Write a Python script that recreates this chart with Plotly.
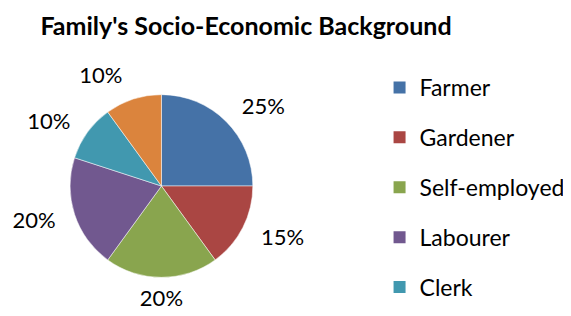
import plotly.graph_objects as go

categories = ["Farmer", "Gardener", "Self-employed", "Labourer", "Clerk", "Other"]
values = [25, 15, 20, 20, 10, 10]
colors = ["#4572A7", "#AA4643", "#89A54E", "#71588F", "#4198AF", "#DB843D"]
legend_items = ["Farmer", "Gardener", "Self-employed", "Labourer", "Clerk"]

W, H = 571, 316
cx, cy, r, rl, rr = 146, 178, 93, 106, 132
clear = ["rgba(0,0,0,0)"] * len(values)
total = sum(values)
pct = [f"{v / total:.0%}" for v in values]
# outside labels for most slices, a ring-centred label for the bottom slice
out_text = [t if c != "Self-employed" else "" for t, c in zip(pct, categories)]
ring_text = [t if c == "Self-employed" else "" for t, c in zip(pct, categories)]

def dom(rad):
    return dict(x=[(cx - rad) / W, (cx + rad) / W], y=[(H - cy - rad) / H, (H - cy + rad) / H])

fig = go.Figure()
fig.add_trace(go.Pie(
    labels=categories, values=values, sort=False, direction="clockwise", rotation=0,
    marker=dict(colors=clear, line=dict(width=0)),
    text=out_text, textinfo="text", textposition="outside",
    textfont=dict(family="Lato", size=22, color="black"),
    showlegend=False, hoverinfo="skip", domain=dom(rl),
))
fig.add_trace(go.Pie(
    labels=categories, values=values, sort=False, direction="clockwise", rotation=0,
    hole=(rr - 34) / rr,
    marker=dict(colors=clear, line=dict(width=0)),
    text=ring_text, textinfo="text", textposition="inside", insidetextorientation="horizontal",
    insidetextfont=dict(family="Lato", size=22, color="black"),
    showlegend=False, hoverinfo="skip", domain=dom(rr),
))
fig.add_trace(go.Pie(
    labels=categories, values=values, sort=False, direction="clockwise", rotation=0,
    marker=dict(colors=colors, line=dict(color="white", width=0.5)),
    textinfo="none", showlegend=False, hoverinfo="label+percent", domain=dom(r),
))
for i, name in enumerate(legend_items):
    fig.add_trace(go.Scatter(
        x=[None], y=[None], mode="markers", name=name, legendgroup=name,
        marker=dict(symbol="square", size=15, color=colors[i]),
    ))

fig.update_layout(
    width=W, height=H, margin=dict(l=0, r=0, t=0, b=0),
    paper_bgcolor="white", plot_bgcolor="white",
    title=dict(text="<b>Family's Socio-Economic Background</b>", x=238 / W, xanchor="center",
               y=1 - 18 / H, yanchor="middle",
               font=dict(family="Lato", size=25, color="black")),
    xaxis=dict(visible=False), yaxis=dict(visible=False),
    legend=dict(x=368 / W, xanchor="left", y=1 - 58 / H, yanchor="top",
                font=dict(family="Lato", size=23, color="black"),
                traceorder="grouped", tracegroupgap=17, itemsizing="constant",
                bgcolor="rgba(0,0,0,0)"),
)
fig.write_html("out.html")
